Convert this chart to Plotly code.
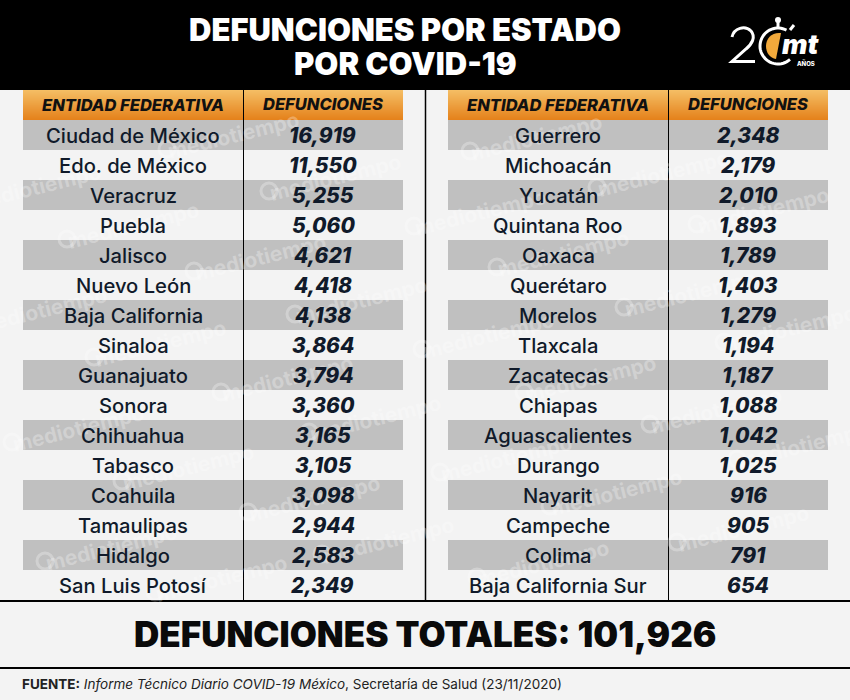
import math
import plotly.graph_objects as go

# left and right halves of the table
estados_izq = ['Ciudad de México', 'Edo. de México', 'Veracruz', 'Puebla', 'Jalisco', 'Nuevo León',
               'Baja California', 'Sinaloa', 'Guanajuato', 'Sonora', 'Chihuahua', 'Tabasco',
               'Coahuila', 'Tamaulipas', 'Hidalgo', 'San Luis Potosí']
muertes_izq = [16919, 11550, 5255, 5060, 4621, 4418, 4138, 3864, 3794, 3360, 3165, 3105, 3098, 2944, 2583, 2349]
estados_der = ['Guerrero', 'Michoacán', 'Yucatán', 'Quintana Roo', 'Oaxaca', 'Querétaro', 'Morelos',
               'Tlaxcala', 'Zacatecas', 'Chiapas', 'Aguascalientes', 'Durango', 'Nayarit', 'Campeche',
               'Colima', 'Baja California Sur']
muertes_der = [2348, 2179, 2010, 1893, 1789, 1403, 1279, 1194, 1187, 1088, 1042, 1025, 916, 905, 791, 654]
encabezados = ['ENTIDAD FEDERATIVA', 'DEFUNCIONES']
titulo = ['DEFUNCIONES POR ESTADO', 'POR COVID-19']
total = 'DEFUNCIONES TOTALES: 101,926'
fuente = '<b>FUENTE:</b> <i>Informe Técnico Diario COVID-19 México</i>, Secretaría de Salud (23/11/2020)'

# watermark centres, page pixels
marcas = [(225, 135), (327, 177), (27, 187), (125, 225), (252, 257), (353, 300), (33, 310), (152, 343),
          (279, 378), (70, 428), (367, 418), (180, 467), (306, 498), (103, 547), (380, 540), (213, 578),
          (528, 137), (655, 173), (472, 212), (755, 210), (555, 253), (682, 293), (782, 328), (480, 335),
          (582, 378), (708, 410), (498, 458), (795, 445), (608, 492), (735, 528), (535, 563)]

W, H = 850, 700
FONT = 'Inter'
TINTA = '#101a2a'
BANDA = '#c0c0c0'
FONDO = '#f3f3f3'
ANCHO = 380
COL1, COL2 = 110, 300
MARCA = 'rgba(255,255,255,0.28)'


def fuente_de(size, color, weight=None, style=None):
    font = dict(family=FONT, size=size, color=color)
    if weight:
        font['weight'] = weight
    if style:
        font['style'] = style
    return font


def add_bandas(fig, estados, xa, ya):
    fig.add_trace(go.Bar(y=estados[::2], x=[ANCHO] * len(estados[::2]), orientation='h', width=1,
                         marker=dict(color=BANDA, line_width=0), hoverinfo='skip', xaxis=xa, yaxis=ya))


def celdas(estados, muertes, xa, ya):
    # annotations, not scatter text, so they stay on top of the watermark
    res = []
    for estado, m in zip(estados, muertes):
        res.append(dict(xref=xa, yref=ya, x=COL1, y=estado, text=estado, showarrow=False, yanchor='middle',
                        font=fuente_de(20.2, TINTA, 500)))
        res.append(dict(xref=xa, yref=ya, x=COL2, y=estado, text='{:,}'.format(m), showarrow=False,
                        yanchor='middle', font=fuente_de(21, TINTA, 800, 'italic')))
    return res


def linea(x0, y0, x1, y1, ancho, color='#000000'):
    return dict(type='line', xref='x3', yref='y3', x0=x0, x1=x1, y0=y0, y1=y1,
                line=dict(color=color, width=ancho), layer='above')


def rect(x0, y0, x1, y1, color):
    return dict(type='rect', xref='x3', yref='y3', x0=x0, x1=x1, y0=y0, y1=y1,
                fillcolor=color, line_width=0, layer='above')


def path(d, ancho=0, color='white', relleno=None):
    s = dict(type='path', xref='x3', yref='y3', path=d, line=dict(color=color, width=ancho), layer='above')
    if relleno:
        s['fillcolor'] = relleno
    return s


def arco(cx, cy, r, a0, a1, n=40):
    pts = []
    for i in range(n + 1):
        a = math.radians(a0 + (a1 - a0) * i / n)
        pts.append('%.1f,%.1f' % (cx + r * math.cos(a), cy - r * math.sin(a)))
    return 'M' + ' L'.join(pts)


def texto(x, y, t, size, color, weight=None, style=None, **kw):
    return dict(xref='x3', yref='y3', x=x, y=y, text=t, font=fuente_de(size, color, weight, style),
                showarrow=False, yanchor='middle', **kw)


fig = go.Figure()
add_bandas(fig, estados_izq, 'x', 'y')
add_bandas(fig, estados_der, 'x2', 'y2')
fig.add_trace(go.Scatter(x=[], y=[], xaxis='x3', yaxis='y3', hoverinfo='skip'))

shapes = [rect(0, 0, W, 90, '#000000')]
# header gradient, one pixel strip at a time
for x0 in (23, 448):
    for i in range(30):
        t = i / 29
        c = 'rgb(%d,%d,%d)' % (245 - 16 * t, 190 - 60 * t, 100 - 72 * t)
        shapes.append(rect(x0, 90 + i, x0 + ANCHO, 91 + i, c))
shapes += [linea(243.5, 90, 243.5, 600, 1), linea(668.5, 90, 668.5, 600, 1), linea(425.5, 90, 425.5, 600, 1.5),
           linea(0, 601, W, 601, 2), linea(0, 668, W, 668, 2)]

# logo
shapes += [
    path('M732,37 C734,28 745,25 751,31 C756,37 752,44 746,49 L732,61.5 L755,61.5', 3),
    path(arco(778, 46, 18, 62, 312), 3),
    path('M781,33 C772,32 766,38 766,46 C766,53 770,58 776,59 Z', 0, relleno='#f2a93b'),
    path('M778,21 L778,28', 3),
    path('M790,30 L794,25', 3),
    dict(type='circle', xref='x3', yref='y3', x0=775, x1=781, y0=17, y1=23, fillcolor='white', line_width=0,
         layer='above'),
]

anotaciones = []
for cx, cy in marcas:
    anotaciones.append(texto(cx + 8, cy, 'mediotiempo', 21, MARCA, 700, textangle=-14))
    mx, my = cx - 58, cy + 14
    shapes.append(dict(type='circle', xref='x3', yref='y3', x0=mx - 8, x1=mx + 8, y0=my - 8, y1=my + 8,
                       line=dict(color=MARCA, width=3), layer='above'))

anotaciones += [
    texto(405, 29, titulo[0], 31, 'white', 900),
    texto(405, 63, titulo[1], 31, 'white', 900),
    texto(425, 634, total, 35, '#0a0a0a', 900),
    texto(20, 684, fuente, 13.5, '#222222', xanchor='left'),
    texto(800, 44, 'mt', 27, 'white', 900, 'italic'),
    texto(806, 63, 'AÑOS', 6, 'white', 800),
]
for x0 in (23, 448):
    anotaciones.append(texto(x0 + COL1, 105, encabezados[0], 16.5, '#111111', 800, 'italic'))
    anotaciones.append(texto(x0 + COL2, 104, encabezados[1], 16.5, '#111111', 800, 'italic'))
anotaciones += celdas(estados_izq, muertes_izq, 'x', 'y')
anotaciones += celdas(estados_der, muertes_der, 'x2', 'y2')

ejes = dict(visible=False, fixedrange=True)
fig.update_layout(
    width=W, height=H, margin=dict(l=0, r=0, t=0, b=0), paper_bgcolor=FONDO, plot_bgcolor='rgba(0,0,0,0)',
    showlegend=False, bargap=0, shapes=shapes, annotations=anotaciones,
    xaxis=dict(domain=[23 / W, 403 / W], range=[0, ANCHO], **ejes),
    xaxis2=dict(domain=[448 / W, 828 / W], range=[0, ANCHO], **ejes),
    yaxis=dict(domain=[1 - 600 / H, 1 - 120 / H], type='category', categoryorder='array',
               categoryarray=estados_izq, range=[15.5, -0.5], **ejes),
    yaxis2=dict(domain=[1 - 600 / H, 1 - 120 / H], type='category', categoryorder='array',
                categoryarray=estados_der, range=[15.5, -0.5], **ejes),
    xaxis3=dict(domain=[0, 1], range=[0, W], anchor='y3', **ejes),
    yaxis3=dict(domain=[0, 1], range=[H, 0], anchor='x3', **ejes),
)
fig.write_html('out.html', config=dict(displayModeBar=False), post_script='document.body.style.margin="0";')
